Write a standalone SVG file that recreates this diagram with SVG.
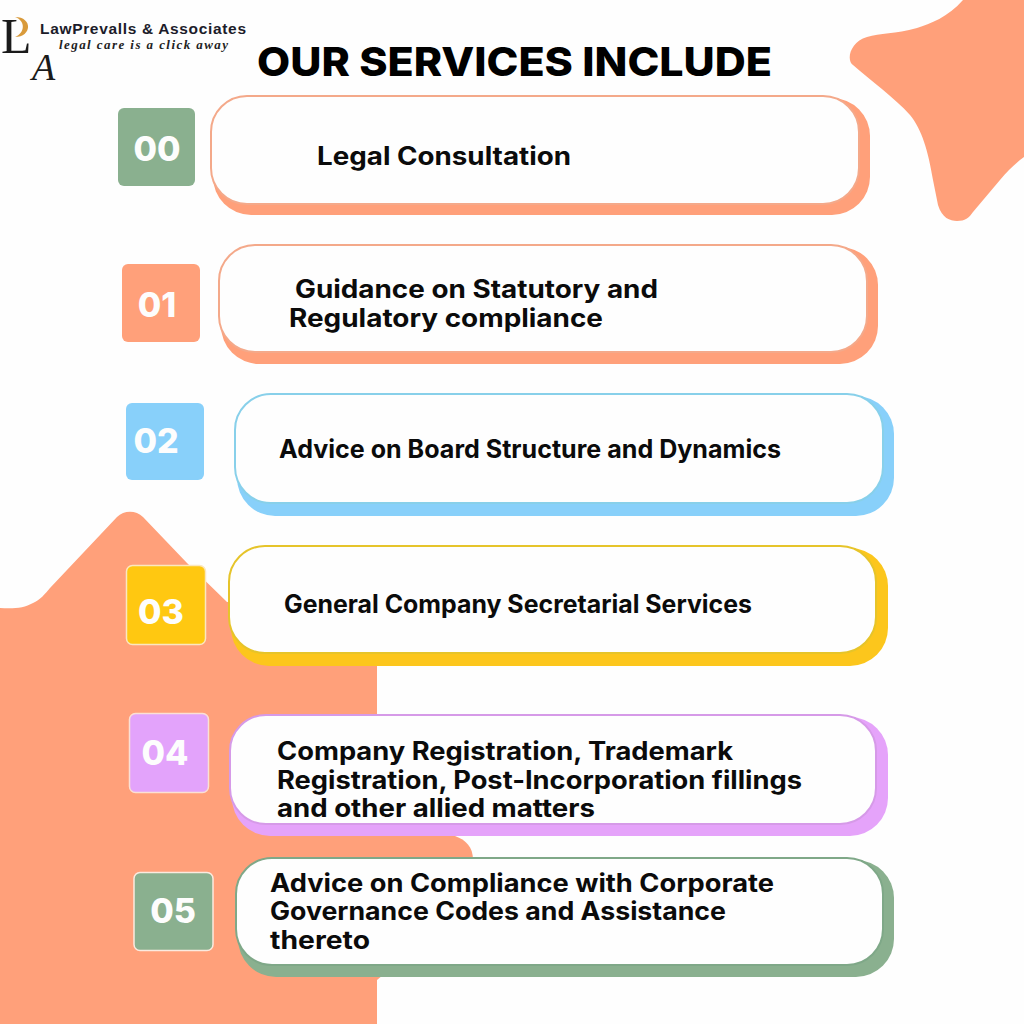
<svg xmlns="http://www.w3.org/2000/svg" width="1024" height="1024" viewBox="0 0 1024 1024">
<style>
.t{font-family:Inter,"Liberation Sans",sans-serif;font-weight:700;font-size:25px;fill:#0b0b0b}
.n{font-family:Inter,"Liberation Sans",sans-serif;font-weight:800;font-size:34px;fill:#fdfdfd;text-anchor:middle}
.w{fill:#fefefe;stroke-width:2}
.sq{stroke-width:1.500}
</style>
<rect width="1024" height="1024" fill="#fefefe"/>
<g id="background-shapes" fill="#ffa07a">
<path d="M0 608C14 609 24 608 33 603C40 600 45 594 50 588L117 517C124 510 136 510 143 517L187 563L227 602L377 600L377 1024L0 1024Z"/>
<path d="M377 830L455 836C466 840 473 847 473 860L473 900L377 980Z"/>
<path d="M963 0C948 17 930 24 917 28C895 34 880 33 867 37C850 42 846 60 853 65C870 80 895 98 910 115C922 130 928 150 933 180L938 205C942 218 950 221 957 221C965 221 969 218 973 212L1000 180C1008 170 1016 163 1024 157L1024 0Z"/>
</g>
<g id="logo">
<text x="1" y="53" font-family="Liberation Serif,serif" font-size="50" fill="#1a1a1a">L</text>
<path d="M15 17C33 17 32 37 15 37C25 33 26 21 15 17Z" fill="#d99a3a"/>
<text x="32" y="80" font-family="Liberation Serif,serif" font-style="italic" font-size="38" fill="#1a1a1a">A</text>
<text x="40" y="34" font-family="Liberation Sans,sans-serif" font-weight="700" font-size="15.500" fill="#1c1c2a" textLength="206" lengthAdjust="spacing">LawPrevalls &amp; Associates</text>
<text x="59" y="49" font-family="Liberation Serif,serif" font-style="italic" font-weight="700" font-size="13" fill="#222" textLength="169" lengthAdjust="spacing">legal care is a click away</text>
</g>
<text id="title" x="257" y="76" font-family="Inter,Liberation Sans,sans-serif" font-weight="800" font-size="40" fill="#000" textLength="515" lengthAdjust="spacingAndGlyphs">OUR SERVICES INCLUDE</text>
<g id="node-00">
<rect x="118" y="108" width="77" height="78" rx="6" fill="#8ab08f"/>
<text class="n" x="157" y="161">00</text>
<rect x="213" y="98" width="657" height="117" rx="38" fill="#ffa07a"/>
<rect class="w" x="211" y="96" width="648" height="108" rx="36" stroke="#f4a98a"/>
<text class="t" x="317" y="164.500" textLength="254" lengthAdjust="spacingAndGlyphs">Legal Consultation</text>
</g>
<g id="node-01">
<rect x="122" y="264" width="78" height="78" rx="6" fill="#ffa07a"/>
<text class="n" x="157" y="317">01</text>
<rect x="221" y="247" width="657" height="117" rx="38" fill="#ffa07a"/>
<rect class="w" x="219" y="245" width="648" height="107" rx="36" stroke="#f4a98a"/>
<text class="t" x="295" y="298" textLength="363" lengthAdjust="spacingAndGlyphs">Guidance on Statutory and</text>
<text class="t" x="289" y="327" textLength="314" lengthAdjust="spacingAndGlyphs">Regulatory compliance</text>
</g>
<g id="node-02">
<rect x="126" y="403" width="78" height="77" rx="6" fill="#88d0fa"/>
<text class="n" x="156" y="453">02</text>
<rect x="237" y="396" width="657" height="120" rx="38" fill="#88d0fa"/>
<rect class="w" x="235" y="394" width="648" height="109" rx="36" stroke="#88d0ea"/>
<text class="t" x="279" y="458" textLength="502" lengthAdjust="spacingAndGlyphs">Advice on Board Structure and Dynamics</text>
</g>
<g id="node-03">
<rect class="sq" x="126.500" y="565.500" width="79" height="79" rx="6" fill="#ffc811" stroke="#fbe7bf"/>
<text class="n" x="161" y="624">03</text>
<rect x="231" y="548" width="657" height="118" rx="38" fill="#fcc61c"/>
<rect class="w" x="229" y="546" width="647" height="107" rx="36" stroke="#e6c42a"/>
<text class="t" x="284" y="613" textLength="468" lengthAdjust="spacingAndGlyphs">General Company Secretarial Services</text>
</g>
<g id="node-04">
<rect class="sq" x="129.500" y="713.500" width="79" height="79" rx="6" fill="#e3a3fb" stroke="#fbe0d4"/>
<text class="n" x="165" y="765">04</text>
<rect x="232" y="717" width="656" height="119" rx="38" fill="#e5a3fa"/>
<rect class="w" x="230" y="715" width="646" height="109" rx="36" stroke="#d69ae8"/>
<text class="t" x="277" y="760" textLength="456" lengthAdjust="spacingAndGlyphs">Company Registration, Trademark</text>
<text class="t" x="277" y="789" textLength="525" lengthAdjust="spacingAndGlyphs">Registration, Post-Incorporation fillings</text>
<text class="t" x="277" y="817" textLength="318" lengthAdjust="spacingAndGlyphs">and other allied matters</text>
</g>
<g id="node-05">
<rect class="sq" x="134" y="872.500" width="79" height="78" rx="6" fill="#8ab08f" stroke="#fbeadf"/>
<text class="n" x="173" y="923">05</text>
<rect x="238" y="860" width="656" height="117" rx="38" fill="#8ab08f"/>
<rect class="w" x="236" y="858" width="647" height="107" rx="36" stroke="#7fa888"/>
<text class="t" x="270" y="892" textLength="504" lengthAdjust="spacingAndGlyphs">Advice on Compliance with Corporate</text>
<text class="t" x="270" y="920" textLength="456" lengthAdjust="spacingAndGlyphs">Governance Codes and Assistance</text>
<text class="t" x="270" y="949" textLength="100" lengthAdjust="spacingAndGlyphs">thereto</text>
</g>
<g id="connectors"/>
</svg>
